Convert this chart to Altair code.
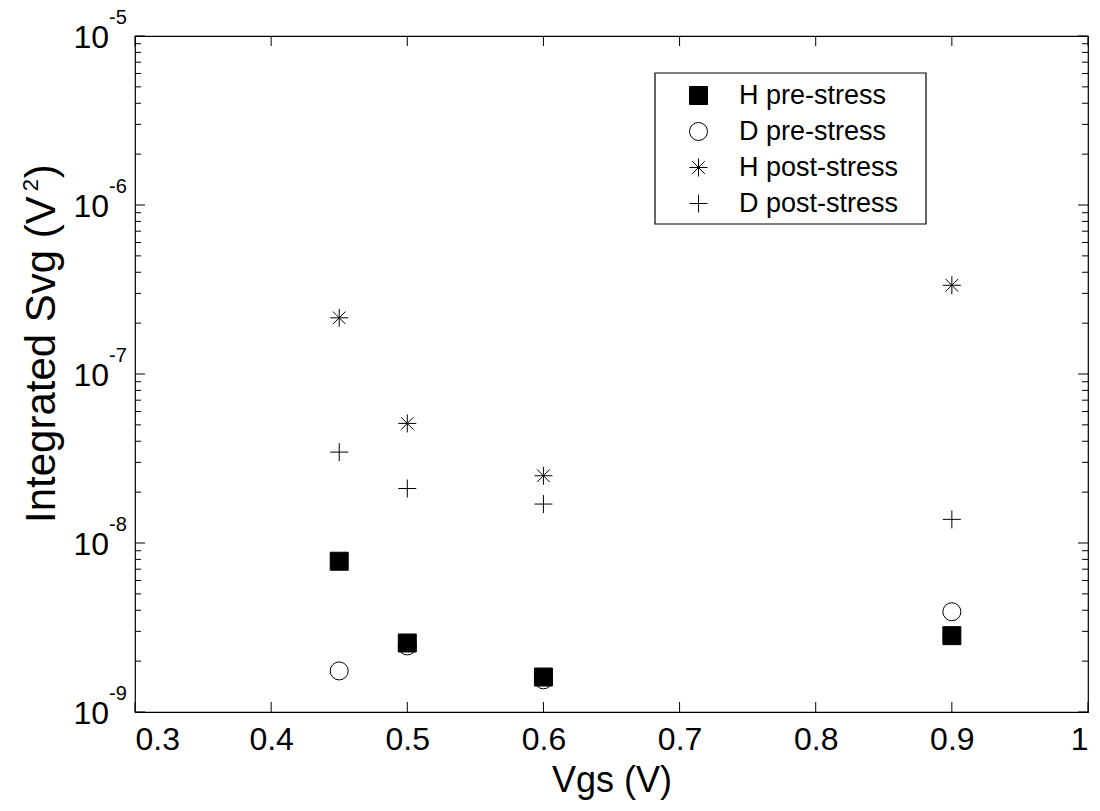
import altair as alt
import pandas as pd

# ---- data ----
vgs = [0.45, 0.5, 0.6, 0.9]
series_names = ["H pre-stress", "D pre-stress", "H post-stress", "D post-stress"]
h_pre = [7.8e-9, 2.56e-9, 1.61e-9, 2.83e-9]
d_pre = [1.75e-9, 2.46e-9, 1.55e-9, 3.92e-9]
h_post = [2.15e-7, 5.1e-8, 2.5e-8, 3.35e-7]
d_post = [3.45e-8, 2.1e-8, 1.7e-8, 1.38e-8]

x_ticks = [0.3, 0.4, 0.5, 0.6, 0.7, 0.8, 0.9, 1.0]
y_decades = [1e-9, 1e-8, 1e-7, 1e-6, 1e-5]
y_exponents = ["-9", "-8", "-7", "-6", "-5"]
y_minor = [k * d for d in y_decades[:-1] for k in range(2, 10)]

FONT = "Liberation Sans"
W, H = 953, 676

rows = []
for name, vals in zip(series_names, [h_pre, d_pre, h_post, d_post]):
    for x, v in zip(vgs, vals):
        rows.append({"vgs": x, "val": v, "series": name})
df = pd.DataFrame(rows)

xs = alt.Scale(domain=[0.3, 1.0], nice=False, zero=False)
ys = alt.Scale(type="log", domain=[1e-9, 1e-5], nice=False)

x_axis = alt.Axis(
    values=x_ticks, format="~g", labelFontSize=32, labelFont=FONT, labelColor="black",
    ticks=False, domain=False, grid=False, labelPadding=12,
    title="Vgs (V)", titleFontSize=36, titleFont=FONT, titleFontWeight="normal",
    titleColor="black", titlePadding=8)

ASTER = "M-1,0L1,0M0,-1L0,1M-0.7,-0.7L0.7,0.7M-0.7,0.7L0.7,-0.7"
PLUS = "M-1,0L1,0M0,-1L0,1"

leg = alt.Legend(
    title=None, orient="none", legendX=520, legendY=37,
    labelFontSize=27, labelFont=FONT, labelColor="black",
    symbolSize=324, symbolStrokeColor="black", symbolStrokeWidth=1,
    padding=9, rowPadding=8, symbolOffset=21, labelOffset=27,
)

one = pd.DataFrame({"a": [0]})

legend_box = alt.Chart(one).mark_rect(
    fill="white", stroke="black", strokeWidth=1.2
).encode(x=alt.value(520), x2=alt.value(791), y=alt.value(37), y2=alt.value(188))

points = alt.Chart(df).mark_point(opacity=1, strokeWidth=1, size=324).encode(
    x=alt.X("vgs:Q", scale=xs, axis=x_axis),
    y=alt.Y("val:Q", scale=ys, axis=None),
    shape=alt.Shape("series:N", scale=alt.Scale(domain=series_names,
                    range=["square", "circle", ASTER, PLUS]), legend=leg),
    fill=alt.Fill("series:N", scale=alt.Scale(domain=series_names,
                  range=["black", "transparent", "transparent", "transparent"]), legend=leg),
    stroke=alt.Stroke("series:N", scale=alt.Scale(domain=series_names,
                      range=["black", "black", "black", "black"]), legend=leg),
)

xt = pd.DataFrame({"vgs": x_ticks})
ytM = pd.DataFrame({"val": y_decades})
ytm = pd.DataFrame({"val": y_minor})

tick_style = dict(color="black", strokeWidth=1)
xb = alt.Chart(xt).mark_rule(**tick_style).encode(
    x=alt.X("vgs:Q", scale=xs, axis=x_axis), y=alt.value(H), y2=alt.value(H - 10))
xtp = alt.Chart(xt).mark_rule(**tick_style).encode(
    x=alt.X("vgs:Q", scale=xs, axis=x_axis), y=alt.value(0), y2=alt.value(10))
yl = alt.Chart(ytM).mark_rule(**tick_style).encode(
    y=alt.Y("val:Q", scale=ys, axis=None), x=alt.value(0), x2=alt.value(10))
yr = alt.Chart(ytM).mark_rule(**tick_style).encode(
    y=alt.Y("val:Q", scale=ys, axis=None), x=alt.value(W), x2=alt.value(W - 10))
yml = alt.Chart(ytm).mark_rule(**tick_style).encode(
    y=alt.Y("val:Q", scale=ys, axis=None), x=alt.value(0), x2=alt.value(6))
ymr = alt.Chart(ytm).mark_rule(**tick_style).encode(
    y=alt.Y("val:Q", scale=ys, axis=None), x=alt.value(W), x2=alt.value(W - 6))

lab_df = pd.DataFrame({"val": y_decades, "e": y_exponents, "b": ["10"] * 5})
ylab_base = alt.Chart(lab_df).mark_text(
    font=FONT, fontSize=32, align="right", baseline="alphabetic", dy=12, color="black"
).encode(y=alt.Y("val:Q", scale=ys, axis=None), x=alt.value(-26), text="b:N")
ylab_exp = alt.Chart(lab_df).mark_text(
    font=FONT, fontSize=20, align="left", baseline="alphabetic", dy=-12, color="black"
).encode(y=alt.Y("val:Q", scale=ys, axis=None), x=alt.value(-26), text="e:N")

# y-axis title: start of text (bottom) anchored, pieces offset along the text direction
YT_FS = 42
MAIN_W = 7.782 * YT_FS          # width of "Integrated Svg (V" in Arial metrics
YT_X, YT_Y = -80, 487
title_df = pd.DataFrame({"main": ["Integrated Svg (V"], "sup": ["2"], "close": [")"]})
ytitle_main = alt.Chart(title_df).mark_text(
    font=FONT, fontSize=YT_FS, angle=270, align="left", baseline="alphabetic", color="black"
).encode(x=alt.value(YT_X), y=alt.value(YT_Y), text="main:N")
ytitle_sup = alt.Chart(title_df).mark_text(
    font=FONT, fontSize=22, angle=270, align="left", baseline="alphabetic",
    dx=MAIN_W + 5, dy=-17, color="black"
).encode(x=alt.value(YT_X), y=alt.value(YT_Y), text="sup:N")
ytitle_close = alt.Chart(title_df).mark_text(
    font=FONT, fontSize=YT_FS, angle=270, align="left", baseline="alphabetic",
    dx=MAIN_W + 5 + 13, color="black"
).encode(x=alt.value(YT_X), y=alt.value(YT_Y), text="close:N")

chart = alt.layer(
    legend_box, xb, xtp, yl, yr, yml, ymr, ylab_base, ylab_exp,
    ytitle_main, ytitle_sup, ytitle_close, points
).properties(
    width=W, height=H,
    autosize=alt.AutoSizeParams(type="none"),
    padding={"left": 127, "top": 28, "right": 4, "bottom": 90},
).configure_view(stroke="black", strokeWidth=1.2)

chart.save("out.html", embed_options={"renderer": "svg", "actions": False})
